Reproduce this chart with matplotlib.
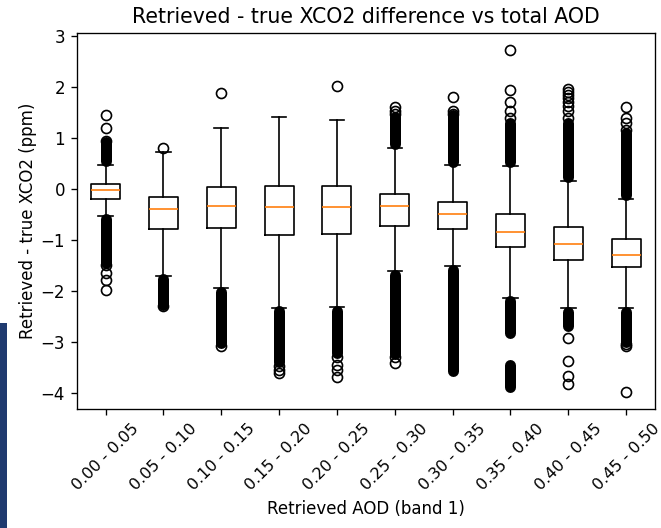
import matplotlib
matplotlib.use("Agg")
import matplotlib.pyplot as plt
from matplotlib.patches import Rectangle

labels = ['0.00 - 0.05', '0.05 - 0.10', '0.10 - 0.15', '0.15 - 0.20', '0.20 - 0.25',
          '0.25 - 0.30', '0.30 - 0.35', '0.35 - 0.40', '0.40 - 0.45', '0.45 - 0.50']
medians = [-0.03, -0.40, -0.33, -0.36, -0.35, -0.33, -0.50, -0.85, -1.08, -1.29]
q1 = [-0.20, -0.78, -0.77, -0.90, -0.89, -0.72, -0.78, -1.15, -1.39, -1.54]
q3 = [0.10, -0.16, 0.03, 0.05, 0.06, -0.10, -0.26, -0.49, -0.74, -0.99]
whislo = [-0.54, -1.71, -1.95, -2.34, -2.32, -1.62, -1.52, -2.14, -2.34, -2.34]
whishi = [0.47, 0.73, 1.19, 1.41, 1.35, 0.80, 0.46, 0.44, 0.16, -0.20]

# individual (sparse) outliers per box
fliers = [
    [1.19, 1.45, 0.95, -1.50, -1.65, -1.78, -1.98],
    [0.80, -2.30],
    [1.88, -3.08],
    [-3.48, -3.55, -3.61],
    [2.02, -3.30, -3.45, -3.55, -3.70],
    [1.48, 1.52, 1.61, -3.30, -3.42],
    [1.48, 1.52, 1.81],
    [1.40, 1.52, 1.70, 1.94, 2.72],
    [1.40, 1.52, 1.62, 1.70, 1.78, 1.84, 1.90, 1.97, -2.93, -3.37, -3.68, -3.84],
    [1.16, 1.30, 1.39, 1.61, -3.05, -3.09, -3.99],
]

# dense runs of outliers (box index, low, high)
band_box = [1, 1, 2, 3, 4, 5, 6, 6, 7, 7, 8, 8, 8, 9, 9, 10, 10]
band_lo = [0.55, -1.45, -2.28, -3.03, -3.40, -3.22, 0.88, -3.24, 0.52, -3.58,
           0.52, -2.82, -3.88, 0.24, -2.70, -0.12, -3.00]
band_hi = [0.93, -0.60, -1.77, -2.02, -2.40, -2.39, 1.42, -1.69, 1.45, -1.59,
           1.30, -2.20, -3.46, 1.30, -2.41, 1.10, -2.41]

title = 'Retrieved - true XCO2 difference vs total AOD'
xlabel = 'Retrieved AOD (band 1)'
ylabel = 'Retrieved - true XCO2 (ppm)'

DPI = 120
fig = plt.figure(figsize=(661 / DPI, 528 / DPI), dpi=DPI)
ax = fig.add_axes([0.116, 0.225, 0.875, 0.712])

stats = []
for i in range(len(labels)):
    stats.append(dict(med=medians[i], q1=q1[i], q3=q3[i], whislo=whislo[i],
                      whishi=whishi[i], fliers=fliers[i], label=labels[i]))
positions = list(range(1, len(labels) + 1))
ax.bxp(stats, positions=positions,
       flierprops=dict(marker='o', markersize=6, markerfacecolor='none',
                       markeredgecolor='black', markeredgewidth=1.0))
ax.vlines(band_box, band_lo, band_hi, colors='black', linewidth=6.6,
          capstyle='round', zorder=2.5)

ax.set_title(title, fontsize=12.3)
ax.set_xlabel(xlabel)
ax.set_ylabel(ylabel, labelpad=2)
ax.set_xticks(positions)
ax.set_xticklabels(labels, rotation=45, fontsize=9.6)

fig.patches.append(Rectangle((0, 0), 7 / 661, 205 / 528, transform=fig.transFigure,
                             facecolor='#1f3a6f', edgecolor='none', zorder=0))

fig.savefig('out.png', dpi=DPI)
